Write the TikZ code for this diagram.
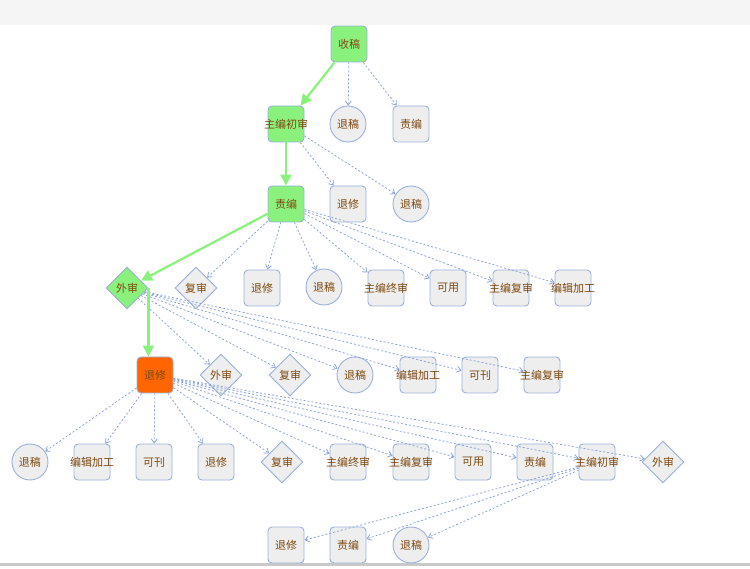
\documentclass[tikz,border=0pt]{standalone}
\usepackage{fontspec}
\newfontfamily\cjk{Noto Sans CJK SC}
\usepackage{xcolor}
\usetikzlibrary{arrows.meta,shapes.geometric}
\definecolor{nodeedge}{HTML}{9CB0D8}
\definecolor{nodefill}{HTML}{EEEEEE}
\definecolor{okgreen}{HTML}{8AF27C}
\definecolor{hotorange}{HTML}{FF6600}
\definecolor{txtbrown}{HTML}{7E4A12}
\definecolor{flowblue}{HTML}{8EA3D6}
\definecolor{topband}{HTML}{F5F5F5}
\definecolor{bottomgrey}{HTML}{C8C8C8}
\newcommand{\lbl}[1]{\makebox[0pt]{#1}}

\begin{document}
\begin{tikzpicture}[x=1pt,y=-1pt,
    every node/.style={font=\cjk\fontsize{11}{13}\selectfont,text=txtbrown,inner sep=0pt},
    stepbox/.style={draw=nodeedge,fill=nodefill,line width=0.9pt,rectangle,rounded corners=4pt,minimum size=36pt},
    endcirc/.style={draw=nodeedge,fill=nodefill,line width=0.9pt,circle,minimum size=36pt},
    choice/.style={draw=nodeedge,fill=nodefill,line width=0.9pt,diamond,aspect=1,minimum size=42pt},
    done/.style={fill=okgreen},
    now/.style={fill=hotorange},
    flow/.style={draw=flowblue,line width=0.8pt,dash pattern=on 2pt off 2pt,-{Straight Barb[length=4pt,width=6pt]}},
    taken/.style={draw=okgreen,line width=2.2pt,-{Triangle[length=11pt,width=11pt]}}]
  \useasboundingbox (0,0) rectangle (750,569);
  \fill[topband] (0,0) rectangle (750,25);
  \fill[bottomgrey] (0,563) rectangle (750,566);
  % row 1
  \node[stepbox,done] (sg) at (349,44) {\lbl{收稿}};
  % row 2
  \node[stepbox,done] (zbcs) at (286,124) {\lbl{主编初审}};
  \node[endcirc] (tg2) at (348,124) {\lbl{退稿}};
  \node[stepbox] (zb2) at (411,124) {\lbl{责编}};
  % row 3
  \node[stepbox,done] (zb) at (286,204) {\lbl{责编}};
  \node[stepbox] (tx3) at (348,204) {\lbl{退修}};
  \node[endcirc] (tg3) at (411,204) {\lbl{退稿}};
  % row 4
  \node[choice,done] (ws) at (127,288) {\lbl{外审}};
  \node[choice] (fs4) at (196,288) {\lbl{复审}};
  \node[stepbox] (tx4) at (262,288) {\lbl{退修}};
  \node[endcirc] (tg4) at (324,287) {\lbl{退稿}};
  \node[stepbox] (zzs4) at (386,288) {\lbl{主编终审}};
  \node[stepbox] (ky4) at (448,288) {\lbl{可用}};
  \node[stepbox] (zfs4) at (511,288) {\lbl{主编复审}};
  \node[stepbox] (bj4) at (573,288) {\lbl{编辑加工}};
  % row 5
  \node[stepbox,now] (tx) at (155,375) {\lbl{退修}};
  \node[choice] (ws5) at (221,375) {\lbl{外审}};
  \node[choice] (fs5) at (290,375) {\lbl{复审}};
  \node[endcirc] (tg5) at (355,375) {\lbl{退稿}};
  \node[stepbox] (bj5) at (418,375) {\lbl{编辑加工}};
  \node[stepbox] (kk5) at (480,375) {\lbl{可刊}};
  \node[stepbox] (zfs5) at (542,375) {\lbl{主编复审}};
  % row 6
  \node[endcirc] (tg6) at (30,462) {\lbl{退稿}};
  \node[stepbox] (bj6) at (92,462) {\lbl{编辑加工}};
  \node[stepbox] (kk6) at (154,462) {\lbl{可刊}};
  \node[stepbox] (tx6) at (216,462) {\lbl{退修}};
  \node[choice] (fs6) at (282,462) {\lbl{复审}};
  \node[stepbox] (zzs6) at (348,462) {\lbl{主编终审}};
  \node[stepbox] (zfs6) at (411,462) {\lbl{主编复审}};
  \node[stepbox] (ky6) at (473,462) {\lbl{可用}};
  \node[stepbox] (zb6) at (535,462) {\lbl{责编}};
  \node[stepbox] (zbcs6) at (597,462) {\lbl{主编初审}};
  \node[choice] (ws6) at (663,462) {\lbl{外审}};
  % row 7
  \node[stepbox] (tx7) at (286,545) {\lbl{退修}};
  \node[stepbox] (zb7) at (348,545) {\lbl{责编}};
  \node[endcirc] (tg7) at (411,545) {\lbl{退稿}};
  % dashed branches
  \foreach \t in {tg2,zb2} \draw[flow] (sg) -- (\t);
  \foreach \t in {tx3,tg3} \draw[flow] (zbcs) -- (\t);
  \foreach \t in {fs4,tx4,tg4,zzs4,ky4,zfs4,bj4} \draw[flow] (zb) -- (\t);
  \foreach \t in {ws5,fs5,tg5,bj5,kk5,zfs5} \draw[flow] (ws) -- (\t);
  \foreach \t in {tg6,bj6,kk6,tx6,fs6,zzs6,zfs6,ky6,zb6,zbcs6,ws6} \draw[flow] (tx) -- (\t);
  \foreach \t in {tx7,zb7,tg7} \draw[flow] (zbcs6) -- (\t);
  % path taken
  \draw[taken] (sg) -- (zbcs);
  \draw[taken] (zbcs) -- (zb);
  \draw[taken] (zb) -- (ws);
  \draw[taken] (ws.east) -- (ws.east |- tx.north);
\end{tikzpicture}
\end{document}
